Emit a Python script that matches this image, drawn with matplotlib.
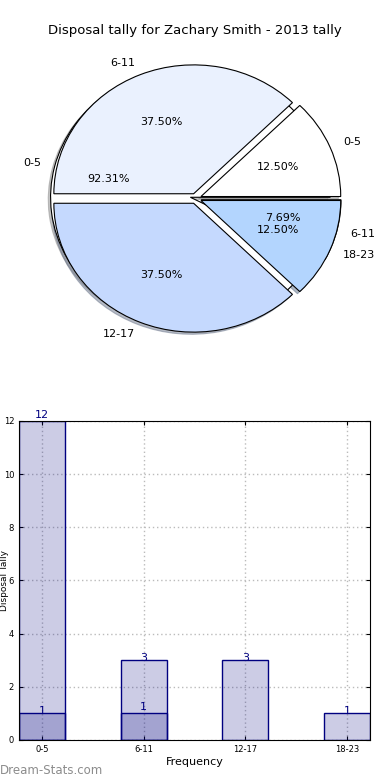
import matplotlib
matplotlib.use("Agg")
import matplotlib.pyplot as plt
import numpy as np

title = "Disposal tally for Zachary Smith - 2013 tally"
categories = ["0-5", "6-11", "12-17", "18-23"]
series_a = [12, 1]          # first tally (0-5, 6-11)
series_b = [1, 3, 3, 1]     # second tally (0-5, 6-11, 12-17, 18-23)
pie_colors = ["#FFFFFF", "#EAF1FE", "#C5D9FE", "#B3D5FE"]

fig = plt.figure(figsize=(3.9, 7.8), dpi=100)
fig.text(0.5, 0.961, title, ha="center", va="center", fontsize=9.5)

# ---- pie ----
axp = fig.add_axes([0.054, 0.539, 0.896, 0.413])
shadow = dict(ox=-0.012, oy=-0.012, shade=0.45)
axp.pie(series_a, labels=categories[:len(series_a)], colors=pie_colors[:len(series_a)],
        autopct="%1.2f%%", explode=[0.04] * len(series_a), shadow=shadow, startangle=0,
        wedgeprops=dict(edgecolor="black", linewidth=0.8),
        textprops=dict(fontsize=8))
axp.pie(series_b, labels=categories, colors=pie_colors,
        autopct="%1.2f%%", explode=[0.04] * len(series_b), shadow=shadow, startangle=0,
        wedgeprops=dict(edgecolor="black", linewidth=0.8),
        textprops=dict(fontsize=8))
axp.set_aspect("auto")
axp.set_xlim(-1.25, 1.25)
axp.set_ylim(-1.25, 1.25)

# ---- bars ----
axb = fig.add_axes([0.0487, 0.0513, 0.9, 0.409])
x = np.arange(len(categories))
w = 0.45
bar_face = (0, 0, 0.5, 0.2)
ba = axb.bar(x[:len(series_a)], series_a, width=w, color=bar_face, edgecolor="navy", linewidth=1, zorder=2)
bb = axb.bar(x, series_b, width=w, color=bar_face, edgecolor="navy", linewidth=1, zorder=2)
for rect, v in zip(ba, series_a):
    axb.text(rect.get_x() + rect.get_width() / 2, rect.get_height() + 0.05, str(v),
             ha="center", va="bottom", color="navy", fontsize=8, zorder=3)
for rect, v in zip(bb, series_b):
    axb.text(rect.get_x() + rect.get_width() / 2, rect.get_height() - 0.1, str(v),
             ha="center", va="bottom", color="navy", fontsize=8, zorder=3)
axb.set_xlim(-w / 2, len(categories) - 1 + w / 2)
axb.set_ylim(0, 12)
axb.set_yticks(range(0, 13, 2))
axb.set_xticks(x)
axb.set_xticklabels(categories)
axb.tick_params(labelsize=6, direction="in", top=True, right=True, length=3)
axb.grid(True, linestyle=(0, (1, 2)), color="#BBBBBB", linewidth=1, zorder=0)
axb.set_axisbelow(True)
axb.set_xlabel("Frequency", fontsize=8, labelpad=2)
axb.set_ylabel("Disposal Tally", fontsize=6.5)
axb.yaxis.set_label_coords(-0.028, 0.5)

fig.text(0.0, 0.004, "Dream-Stats.com", fontsize=8.5, color="#8C8C8C", ha="left", va="bottom")

fig.savefig("out.png", dpi=100)
